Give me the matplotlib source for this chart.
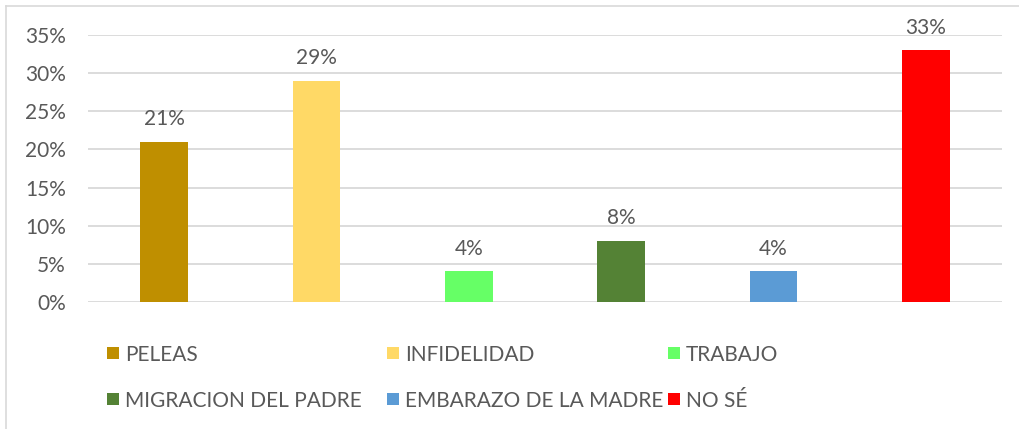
import matplotlib.pyplot as plt
from matplotlib.lines import Line2D
from matplotlib.patches import Rectangle

categories = ['PELEAS', 'INFIDELIDAD', 'TRABAJO', 'MIGRACION DEL PADRE',
              'EMBARAZO DE LA MADRE', 'NO SÉ']
values = [0.21, 0.29, 0.04, 0.08, 0.04, 0.33]
labels = ['21%', '29%', '4%', '8%', '4%', '33%']
colors = ['#BF8F00', '#FFD966', '#66FF66', '#548235', '#5B9BD5', '#FF0000']
yticks = [0, 0.05, 0.10, 0.15, 0.20, 0.25, 0.30, 0.35]
ytick_labels = ['0%', '5%', '10%', '15%', '20%', '25%', '30%', '35%']

plt.rcParams['font.family'] = ['Lato', 'DejaVu Sans']
text_color = '#595959'

W, H = 1019, 429
fig = plt.figure(figsize=(W / 100, H / 100), dpi=100)
ax = fig.add_axes([88 / W, 1 - 302 / H, (1002 - 88) / W, (302 - 35) / H])

x = list(range(len(categories)))
for i in x:
    ax.bar(i, values[i], width=0.315, color=colors[i], zorder=3)
    ax.annotate(labels[i], (i, values[i]), xytext=(0, 12), textcoords='offset points',
                ha='center', va='baseline', fontsize=15, color=text_color)

ax.set_xlim(-0.5, len(categories) - 0.5)
ax.set_ylim(0, 0.35)
ax.set_yticks(yticks)
ax.set_yticklabels(ytick_labels, fontsize=15, color=text_color)
ax.set_xticks([])
ax.tick_params(axis='y', length=0, pad=16)
ax.grid(axis='y', color='#D9D9D9', linewidth=1.3, zorder=0)
for s in ax.spines.values():
    s.set_visible(False)

# legend drawn by hand: two rows of three, row-major like the source
col_x = [107, 387, 668]
row_y = [353, 399]
sq = 12
for k, (name, c) in enumerate(zip(categories, colors)):
    px = col_x[k % 3]
    py = row_y[k // 3]
    fig.add_artist(Rectangle((px / W, 1 - (py + sq / 2) / H), sq / W, sq / H,
                             transform=fig.transFigure, facecolor=c, edgecolor='none'))
    fig.text((px + sq + 6) / W, 1 - py / H, name, ha='left', va='center_baseline',
             fontsize=15, color=text_color)

# chart border (top and left visible)
fig.add_artist(Line2D([6 / W, 6 / W], [0, 1 - 6 / H], transform=fig.transFigure,
                      color='#D9D9D9', linewidth=1.2))
fig.add_artist(Line2D([6 / W, 1], [1 - 6 / H, 1 - 6 / H], transform=fig.transFigure,
                      color='#D9D9D9', linewidth=1.2))

fig.savefig('out.png', dpi=100)
